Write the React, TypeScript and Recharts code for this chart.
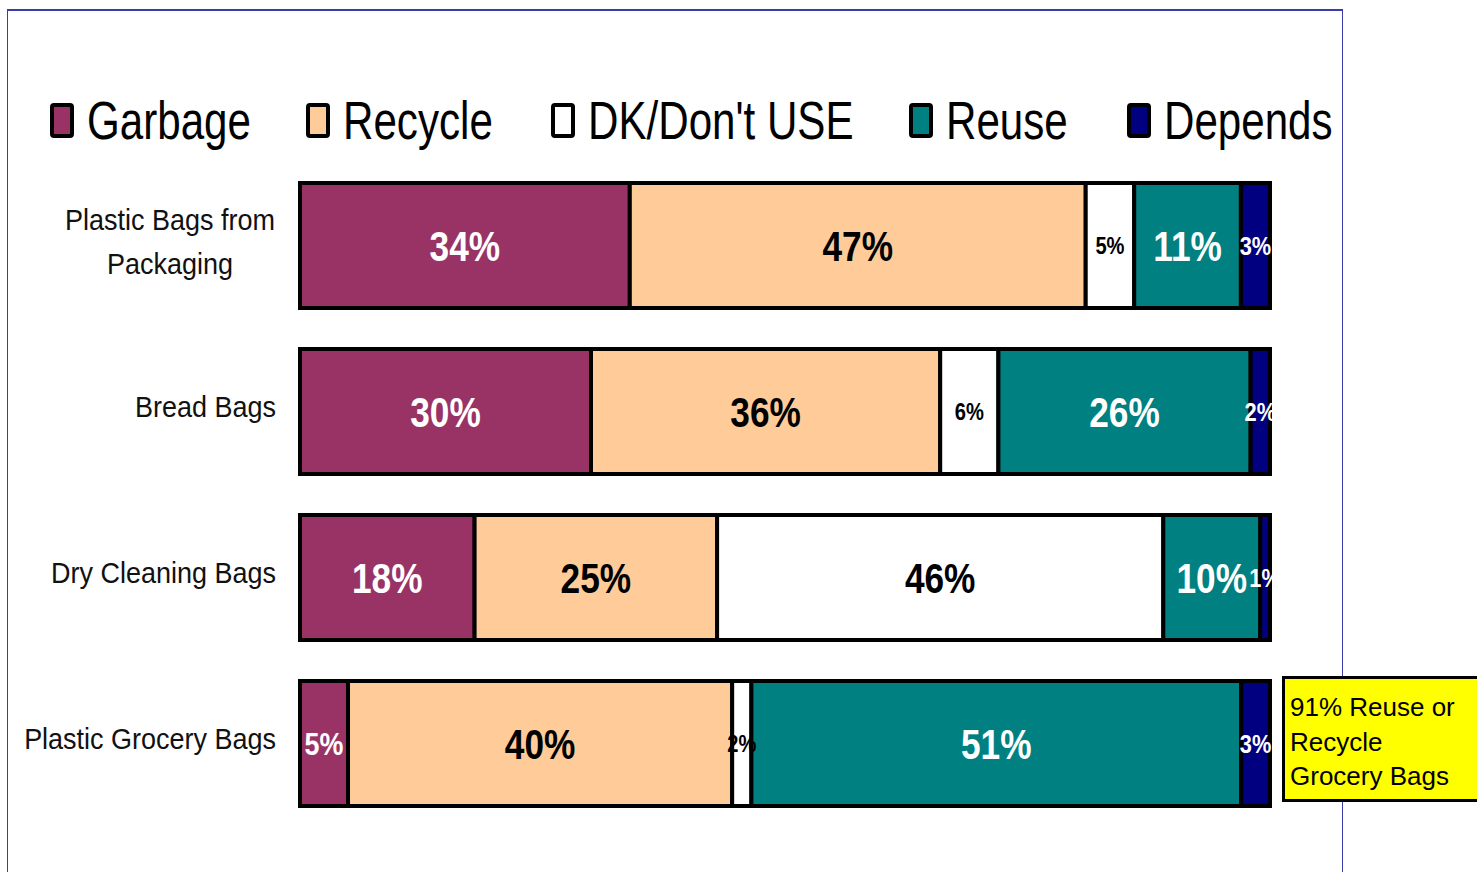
import React from "react";
import { BarChart, Bar, XAxis, YAxis, LabelList, Legend } from "recharts";

const categories = [
  "Plastic Bags from\nPackaging",
  "Bread Bags",
  "Dry Cleaning Bags",
  "Plastic Grocery Bags",
];
const garbage = [34, 30, 18, 5];
const recycle = [47, 36, 25, 40];
const dkDontUse = [5, 6, 46, 2];
const reuse = [11, 26, 10, 51];
const depends = [3, 2, 1, 3];

const seriesNames = ["Garbage", "Recycle", "DK/Don't USE", "Reuse", "Depends"];
const seriesKeys = ["garbage", "recycle", "dk", "reuse", "depends"];
const seriesColors = ["#993366", "#FFCC99", "#FFFFFF", "#008080", "#000080"];
const labelColors = ["#FFFFFF", "#000000", "#000000", "#FFFFFF", "#FFFFFF"];

const calloutLines = ["91% Reuse or", "Recycle", "Grocery Bags"];

const data = categories.map((name, i) => ({
  name,
  garbage: garbage[i],
  recycle: recycle[i],
  dk: dkDontUse[i],
  reuse: reuse[i],
  depends: depends[i],
}));

const FONT = "'Liberation Sans', Arial, sans-serif";
const legendX = [50, 306, 551, 909, 1127];

const makeLabel = (color: string, seriesIdx: number) => (props: any) => {
  const { x, y, width, height, value } = props;
  const v = Number(value);
  let fs = 42;
  if (v < 10) {
    if (seriesIdx === 0) fs = 32;
    else if (seriesIdx === 2) fs = 24;
    else fs = 26;
  }
  const cx = x + width / 2;
  const cy = y + height / 2 + fs * 0.36;
  return (
    <g transform={`translate(${cx},${cy}) scale(0.84,1)`}>
      <text x={0} y={0} textAnchor="middle" fill={color} fontFamily={FONT} fontWeight="bold" fontSize={fs}>
        {v}%
      </text>
    </g>
  );
};

const CategoryTick = (props: any) => {
  const { x, y, payload } = props;
  const lines = String(payload.value).split("\n");
  if (lines.length === 1) {
    return (
      <g transform={`translate(${x - 16},${y + 6}) scale(0.9,1)`}>
        <text x={0} y={0} textAnchor="end" fontFamily={FONT} fontSize={30} fill="#111">
          {lines[0]}
        </text>
      </g>
    );
  }
  return (
    <g transform={`translate(${x - 122},${y}) scale(0.9,1)`}>
      <text x={0} y={0} textAnchor="middle" fontFamily={FONT} fontSize={30} fill="#111">
        {lines.map((l, i) => (
          <tspan key={i} x={0} y={i === 0 ? -15 : 29}>
            {l}
          </tspan>
        ))}
      </text>
    </g>
  );
};

const LegendContent = (props: any) => {
  const payload = [...(props.payload || [])].sort(
    (a: any, b: any) => seriesNames.indexOf(a.value) - seriesNames.indexOf(b.value)
  );
  return (
    <svg width={1477} height={170} style={{ display: "block" }}>
      {payload.map((p: any, i: number) => {
        const lx = legendX[i] ?? 0;
        return (
          <g key={p.value}>
            <rect x={lx + 2} y={105} width={20} height={31} rx={2} fill={p.color} stroke="#000" strokeWidth={4} />
            <g transform={`translate(${lx + 37},139) scale(0.795,1)`}>
              <text x={0} y={0} fontFamily={FONT} fontSize={53} fill="#000">
                {p.value}
              </text>
            </g>
          </g>
        );
      })}
    </svg>
  );
};

export default function App() {
  return (
    <div style={{ position: "absolute", left: 0, top: 0, width: 1477, height: 872, overflow: "hidden", background: "#fff" }}>
      <div
        style={{
          position: "absolute",
          left: 7,
          top: 9,
          width: 1334,
          height: 900,
          borderTop: "2px solid #3c3ca8",
          borderLeft: "1.5px solid #3c3ca8",
          borderRight: "1.5px solid #3c3ca8",
        }}
      />
      <div style={{ position: "absolute", left: 0, top: 0 }}>
        <BarChart
          width={1477}
          height={872}
          data={data}
          layout="vertical"
          stackOffset="expand"
          barCategoryGap={0}
          margin={{ top: 162, right: 207, bottom: 46, left: 0 }}
        >
          <XAxis type="number" hide domain={[0, 1]} />
          <YAxis type="category" dataKey="name" width={300} axisLine={false} tickLine={false} tick={<CategoryTick />} interval={0} />
          <Legend
            verticalAlign="middle"
            align="center"
            layout="horizontal"
            content={<LegendContent />}
            wrapperStyle={{ top: 0, left: 0, width: 1477, height: 170 }}
          />
          {seriesKeys.map((k, i) => (
            <Bar
              key={k}
              dataKey={k}
              name={seriesNames[i]}
              stackId="a"
              fill={seriesColors[i]}
              stroke="#000"
              strokeWidth={4}
              barSize={125}
              isAnimationActive={false}
            >
              <LabelList dataKey={k} content={makeLabel(labelColors[i], i)} />
            </Bar>
          ))}
        </BarChart>
      </div>
      <div
        style={{
          position: "absolute",
          left: 1282,
          top: 676,
          width: 220,
          height: 126,
          background: "#FFFF00",
          border: "3px solid #000",
          fontFamily: FONT,
          fontSize: 26,
          lineHeight: "34.5px",
          paddingLeft: 5,
          paddingTop: 11,
          boxSizing: "border-box",
          color: "#000",
        }}
      >
        {calloutLines.map((l) => (
          <div key={l}>{l}</div>
        ))}
      </div>
    </div>
  );
}
